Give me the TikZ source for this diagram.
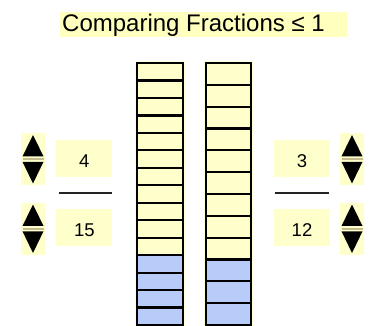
\documentclass[tikz,border=0pt]{standalone}
\usepackage{fontspec}
\setmainfont{Liberation Sans}
\definecolor{cellY}{RGB}{255,255,204}
\definecolor{haloY}{RGB}{255,255,215}
\definecolor{cellB}{RGB}{184,204,250}
\definecolor{titleY}{RGB}{255,255,190}
\definecolor{sepT}{RGB}{196,188,140}
\tikzset{
  numbox/.style={fill=cellY, inner sep=0pt, minimum width=56pt, text height=27.3pt, text depth=9.7pt, font=\fontsize{18.5}{22}\selectfont},
  fracline/.style={line width=2.6pt, draw={rgb,255:red,35;green,35;blue,35}},
  cellline/.style={line width=2.2pt, draw=black},
  spin/.pic={
    \fill[cellY] (-12,-26) rectangle (12,26);
    \fill[black] (0,-24) -- (10.5,-2.6) -- (-10.5,-2.6) -- cycle;
    \draw[sepT, line width=1.6pt] (-10.5,0.2) -- (10.5,0.2);
    \fill[black] (-10.5,2.8) -- (10.5,2.8) -- (0,24.5) -- cycle;
  }
}
\begin{document}
\begin{tikzpicture}[x=1pt,y=-1pt]
\useasboundingbox (0,0) rectangle (372,325);
% title
\node[fill=titleY, inner sep=0pt, minimum width=287pt, minimum height=25pt, anchor=north west] (titlebg) at (60,12) {};
\node[anchor=base west, inner sep=0pt, font=\fontsize{24}{28}\selectfont] (title) at (62,31.7) {Comparing Fractions ≤ 1};
% left bar: 15 cells, 4 shaded
\fill[haloY] (135,61) rectangle (185,326);
\foreach \i in {0,...,14}{
  \pgfmathsetmacro{\ya}{63+\i*262/15}
  \pgfmathsetmacro{\yb}{63+(\i+1)*262/15}
  \ifnum\i>10 \def\cc{cellB}\else\def\cc{cellY}\fi
  \filldraw[fill=\cc, cellline] (137,\ya) rectangle (183,\yb);
}
% right bar: 12 cells, 3 shaded
\fill[haloY] (204,61) rectangle (253,326);
\foreach \i in {0,...,11}{
  \pgfmathsetmacro{\ya}{63+\i*262/12}
  \pgfmathsetmacro{\yb}{63+(\i+1)*262/12}
  \ifnum\i>8 \def\cc{cellB}\else\def\cc{cellY}\fi
  \filldraw[fill=\cc, cellline] (206,\ya) rectangle (251,\yb);
}
% left fraction
\node[numbox] (lnum) at (84.3,158.5) {4};
\node[numbox] (lden) at (84.3,227.5) {15};
\draw[fracline] (59,192.8) -- (112,192.8);
\pic (lspinA) at (33,159) {spin};
\pic (lspinB) at (33,228.5) {spin};
% right fraction
\node[numbox] (rnum) at (302,158.5) {3};
\node[numbox] (rden) at (302,227.5) {12};
\draw[fracline] (275,192.8) -- (328.5,192.8);
\pic (rspinA) at (352,159) {spin};
\pic (rspinB) at (352,228.5) {spin};
\end{tikzpicture}
\end{document}
